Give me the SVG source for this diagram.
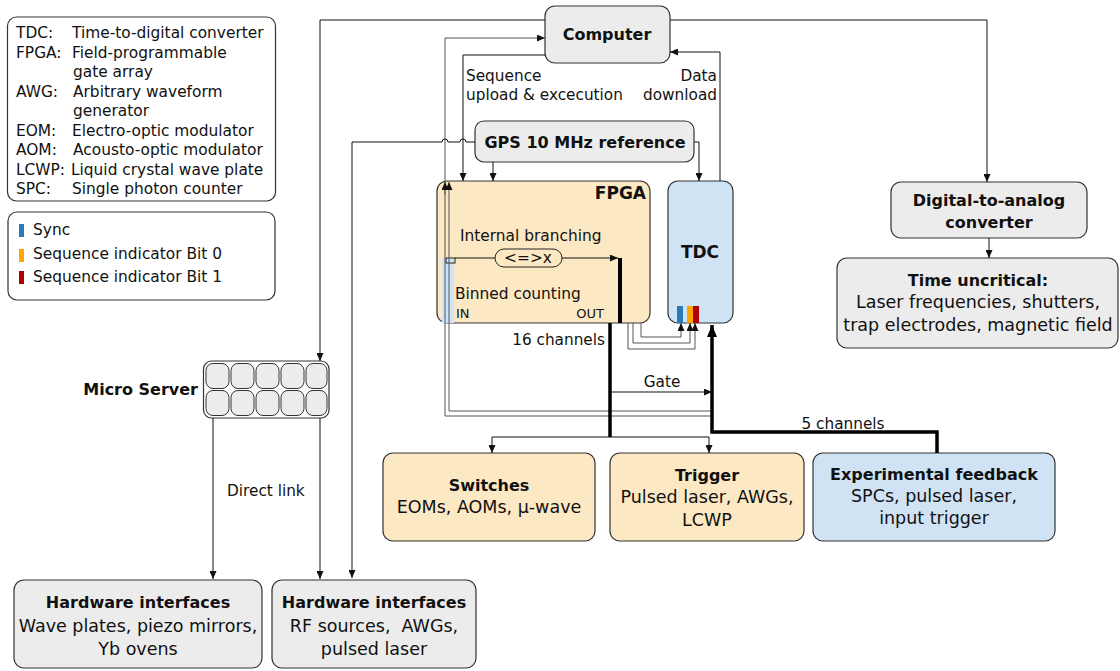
<svg xmlns="http://www.w3.org/2000/svg" width="1120" height="671" viewBox="0 0 1120 671">
<style>
text{font-family:"DejaVu Sans","Liberation Sans",sans-serif;fill:#111}
.lg{font-size:15.4px}
.lb{font-size:15.3px}
.bt{font-size:16px;font-weight:bold}
.bd{font-size:17.5px}
.c{text-anchor:middle}
.r{text-anchor:end}
.box{stroke:#333;stroke-width:1.2}
.gray{fill:#ececec}
.org{fill:#fde8c4}
.blu{fill:#cfe3f5}
.ln{fill:none;stroke:#111;stroke-width:1}
.gl{fill:none;stroke:#555;stroke-width:1}
.tk{fill:none;stroke:#000;stroke-width:3.5}
</style>
<defs>
<marker id="a" markerUnits="userSpaceOnUse" markerWidth="8" markerHeight="7" refX="8" refY="3.5" orient="auto"><path d="M0,0 L8,3.5 L0,7 z" fill="#111"/></marker>
<marker id="ab" markerUnits="userSpaceOnUse" markerWidth="12" markerHeight="10" refX="12" refY="5" orient="auto"><path d="M0,0 L12,5 L0,10 z" fill="#000"/></marker>
</defs>
<rect width="1120" height="671" fill="#fff"/>

<g id="legend-abbrev">
<rect x="7.5" y="17" width="268" height="184" rx="9" fill="#fff" stroke="#333" stroke-width="1.2"/>
<text class="lg" x="16" y="38">TDC:</text><text class="lg" x="72" y="38">Time-to-digital converter</text>
<text class="lg" x="16" y="57.5">FPGA:</text><text class="lg" x="72" y="57.5">Field-programmable</text>
<text class="lg" x="73" y="77">gate array</text>
<text class="lg" x="16" y="96.5">AWG:</text><text class="lg" x="73" y="96.5">Arbitrary waveform</text>
<text class="lg" x="73" y="116">generator</text>
<text class="lg" x="16" y="135.5">EOM:</text><text class="lg" x="72" y="135.5">Electro-optic modulator</text>
<text class="lg" x="16" y="155">AOM:</text><text class="lg" x="73" y="155">Acousto-optic modulator</text>
<text class="lg" x="16" y="174.5">LCWP:</text><text class="lg" x="71" y="174.5">Liquid crystal wave plate</text>
<text class="lg" x="16" y="194">SPC:</text><text class="lg" x="72" y="194">Single photon counter</text>
</g>

<g id="legend-colors">
<rect x="8" y="212" width="267" height="88" rx="9" fill="#fff" stroke="#333" stroke-width="1.2"/>
<rect x="19" y="224" width="5" height="13" fill="#2a7ab9"/>
<text class="lg" x="33" y="235">Sync</text>
<rect x="19" y="249" width="5" height="13" fill="#ffa500"/>
<text class="lg" x="33" y="259">Sequence indicator Bit 0</text>
<rect x="19" y="271" width="5" height="13" fill="#b00000"/>
<text class="lg" x="33" y="282">Sequence indicator Bit 1</text>
</g>

<g id="computer">
<rect class="box gray" x="545" y="6" width="125" height="57" rx="10"/>
<text class="bt c" x="607" y="40">Computer</text>
</g>

<g id="gps">
<rect class="box gray" x="475" y="121" width="219" height="41" rx="9"/>
<text class="bt c" x="585" y="148">GPS 10 MHz reference</text>
</g>

<g id="fpga">
<rect class="box org" x="437" y="181" width="213" height="142" rx="10"/>
<rect x="442" y="258" width="12" height="65" fill="#cfe3f5"/>
<text x="646" y="199" text-anchor="end" style="font-size:17px;font-weight:bold">FPGA</text>
<text class="lg" x="460" y="241">Internal branching</text>
<text class="lg" x="455" y="299">Binned counting</text>
<text x="456" y="318" style="font-size:13px">IN</text>
<text x="604" y="318" text-anchor="end" style="font-size:13px">OUT</text>
<rect x="495" y="249" width="67" height="18" rx="9" fill="none" stroke="#222" stroke-width="1"/>
<text class="lg c" x="528" y="263">&lt;=&gt;x</text>
<rect x="446" y="258" width="9" height="5" fill="none" stroke="#222" stroke-width="1"/>
<rect x="618" y="258" width="4" height="65" fill="#000"/>
</g>

<g id="tdc">
<rect class="box blu" x="668" y="181" width="65" height="142" rx="10"/>
<text x="700" y="258" text-anchor="middle" style="font-size:17px;font-weight:bold">TDC</text>
<rect x="677" y="306" width="6" height="17" fill="#2a7ab9"/>
<rect x="687" y="306" width="6" height="17" fill="#ffa500"/>
<rect x="693" y="306" width="6" height="17" fill="#b00000"/>
</g>

<g id="dac">
<rect class="box gray" x="891" y="182" width="196" height="56" rx="10"/>
<text class="bt c" x="989" y="206">Digital-to-analog</text>
<text class="bt c" x="989" y="228">converter</text>
</g>

<g id="time-uncritical">
<rect class="box gray" x="837" y="258" width="281" height="90" rx="10"/>
<text class="bt c" x="978" y="286">Time uncritical:</text>
<text class="bd c" x="978" y="308">Laser frequencies, shutters,</text>
<text class="bd c" x="978" y="331">trap electrodes, magnetic field</text>
</g>

<g id="micro-server">
<text class="bt r" x="198" y="395">Micro Server</text>
<rect x="203.5" y="361" width="125.5" height="57" rx="8" fill="#fff" stroke="#333" stroke-width="1.2"/>
<g fill="#ececec" stroke="#333" stroke-width="1">
<rect x="206" y="363.5" width="23" height="25" rx="7"/><rect x="231" y="363.5" width="23" height="25" rx="7"/><rect x="256" y="363.5" width="23" height="25" rx="7"/><rect x="281" y="363.5" width="23" height="25" rx="7"/><rect x="306" y="363.5" width="21" height="25" rx="7"/>
<rect x="206" y="390.5" width="23" height="25" rx="7"/><rect x="231" y="390.5" width="23" height="25" rx="7"/><rect x="256" y="390.5" width="23" height="25" rx="7"/><rect x="281" y="390.5" width="23" height="25" rx="7"/><rect x="306" y="390.5" width="21" height="25" rx="7"/>
</g>
</g>

<g id="hw1">
<rect class="box gray" x="14" y="580" width="248" height="88" rx="10"/>
<text class="bt c" x="138" y="608">Hardware interfaces</text>
<text class="bd c" x="138" y="632">Wave plates, piezo mirrors,</text>
<text class="bd c" x="138" y="655">Yb ovens</text>
</g>

<g id="hw2">
<rect class="box gray" x="272" y="580" width="204" height="88" rx="10"/>
<text class="bt c" x="374" y="608">Hardware interfaces</text>
<text class="bd c" x="374" y="632" xml:space="preserve">RF sources,  AWGs,</text>
<text class="bd c" x="374" y="655">pulsed laser</text>
</g>

<g id="switches">
<rect class="box org" x="383" y="453" width="212" height="88" rx="10"/>
<text class="bt c" x="489" y="491">Switches</text>
<text class="bd c" x="489" y="513">EOMs, AOMs, µ-wave</text>
</g>

<g id="trigger">
<rect class="box org" x="610" y="453" width="194" height="88" rx="10"/>
<text class="bt c" x="707" y="481">Trigger</text>
<text class="bd c" x="707" y="503">Pulsed laser, AWGs,</text>
<text class="bd c" x="707" y="526">LCWP</text>
</g>

<g id="experimental-feedback">
<rect class="box blu" x="813" y="453" width="242" height="88" rx="10"/>
<text class="bt c" x="934" y="480">Experimental feedback</text>
<text class="bd c" x="934" y="502">SPCs, pulsed laser,</text>
<text class="bd c" x="934" y="524">input trigger</text>
</g>

<g id="connectors">
<path class="ln" d="M545,20 H320 V361" marker-end="url(#a)"/>
<path class="ln" d="M670,20 H987 V182" marker-end="url(#a)"/>
<path class="ln" d="M545,55 H463 V181" marker-end="url(#a)"/>
<path class="gl" d="M712,416 H445 V38 H545" marker-end="url(#a)"/>
<path class="gl" d="M445,195 V182" marker-end="url(#a)"/>
<path class="gl" d="M712,411 H449 V182" marker-end="url(#a)"/>
<path class="ln" d="M475,142 H466 A3,3 0 0 0 460,142 H448 A3,3 0 0 0 442,142 H352 V578" marker-end="url(#a)"/>
<path class="ln" d="M493,162 V181" marker-end="url(#a)"/>
<path class="ln" d="M694,142 H699 V181" marker-end="url(#a)"/>
<path class="ln" d="M720,181 V52 H670" marker-end="url(#a)"/>
<path class="ln" d="M455,258 H495"/>
<path class="ln" d="M562,258 H618" marker-end="url(#a)"/>
<path class="tk" d="M610,323 V437"/>
<path class="ln" d="M492,437 H709"/>
<path class="ln" d="M492,437 V453" marker-end="url(#a)"/>
<path class="ln" d="M709,437 V453" marker-end="url(#a)"/>
<path class="ln" d="M611,392 H712" marker-end="url(#a)"/>
<path class="gl" d="M641,323 V337 H681 V323" marker-end="url(#a)"/>
<path class="gl" d="M633,323 V343 H690 V323" marker-end="url(#a)"/>
<path class="gl" d="M628,323 V349 H695 V323" marker-end="url(#a)"/>
<path class="tk" d="M937,453 V432 H712 V325" marker-end="url(#ab)"/>
<path class="ln" d="M989,238 V258" marker-end="url(#a)"/>
<path class="ln" d="M213,418 V579" marker-end="url(#a)"/>
<path class="ln" d="M320,418 V579" marker-end="url(#a)"/>
<text class="lb" x="466" y="81">Sequence</text>
<text class="lb" x="466" y="100">upload &amp; excecution</text>
<text class="lb r" x="717" y="81">Data</text>
<text class="lb r" x="717" y="100">download</text>
<text class="lb r" x="605" y="345">16 channels</text>
<text class="lb c" x="662" y="387">Gate</text>
<text class="lb c" x="843" y="429">5 channels</text>
<text class="lb" x="227" y="496">Direct link</text>
</g>
</svg>
